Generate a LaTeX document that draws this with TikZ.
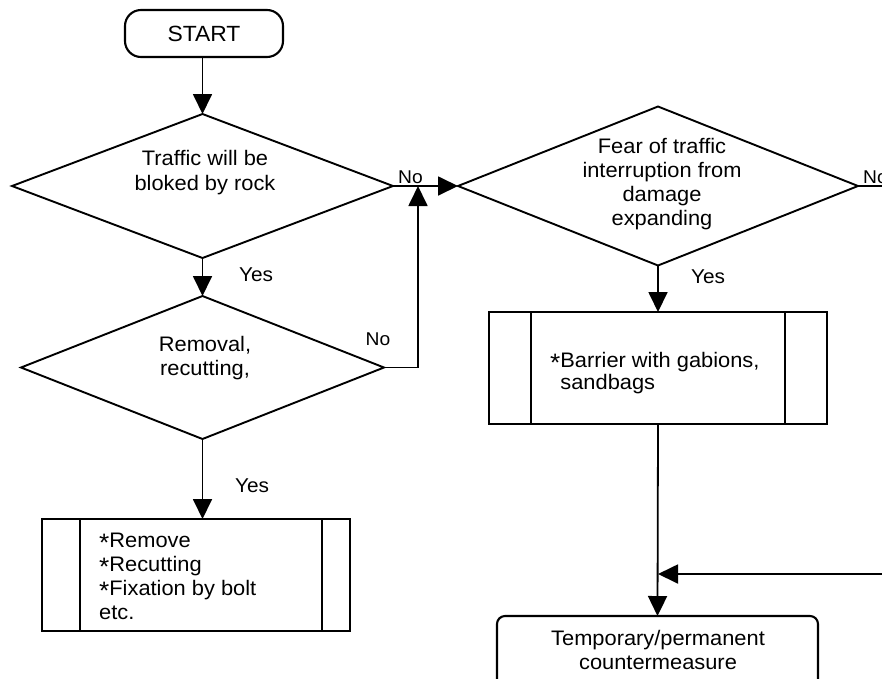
\documentclass[tikz,border=0pt]{standalone}
\usepackage{fontspec}
\setmainfont{Liberation Sans}[FakeStretch=1.04]
\usetikzlibrary{shapes.geometric,arrows.meta,calc}
% list bullet: a lowered asterisk
\newcommand\itemstar{\raisebox{-0.35ex}{\scalebox{1.2}{*}}}
\begin{document}
\begin{tikzpicture}[x=1pt,y=-1pt,
  font=\fontsize{21}{24.5}\selectfont,
  conn/.style={line width=1.8pt},
  arr/.style={conn,-{Triangle[length=20pt,width=19pt]}},
  decision/.style={diamond,draw,line width=1.9pt,inner sep=0pt,outer sep=0pt,aspect=2.6},
  procbox/.style={rectangle,draw,line width=2.7pt,inner sep=0pt,outer sep=0pt},
  terminal/.style={rectangle,draw,line width=2.1pt,outer sep=0pt},
  answer/.style={font=\fontsize{18.5}{20}\selectfont,inner sep=0pt},
  yesmark/.style={font=\fontsize{20}{22}\selectfont,inner sep=0pt},
  txt/.style={align=center,inner sep=0pt},
  listtxt/.style={align=left,inner sep=0pt,anchor=west},
]
\useasboundingbox (0,0) rectangle (882,678);
\clip (0,0) rectangle (882,678);

% terminals
\node[terminal,rounded corners=16pt,minimum width=158pt,minimum height=47pt,
      font=\fontsize{22}{24}\selectfont] (start) at (204,33.5) {START};
\node[terminal,rounded corners=8pt,minimum width=321pt,minimum height=76pt] (fin) at (657.5,654) {};
\node[txt] (fintext) at (658,650) {Temporary/permanent\\countermeasure};

% decisions
\node[decision,minimum width=381pt,minimum height=144pt] (d1) at (202.5,186) {};
\node[txt] (d1text) at (205,172.5) {Traffic will be\\bloked by rock};
\node[decision,minimum width=363pt,minimum height=143pt] (d2) at (202.5,367.5) {};
\node[txt] (d2text) at (205,358) {Removal,\\recutting,};
\node[decision,minimum width=400pt,minimum height=159pt] (d3) at (658,186) {};
\node[txt,font=\fontsize{21}{24}\selectfont] (d3text) at (662,184)
  {Fear of traffic\\interruption from\\damage\\expanding};

% process boxes with side bars
\node[procbox,minimum width=308pt,minimum height=112pt] (b1) at (196,575) {};
\draw[line width=2.7pt] ([xshift=38pt]b1.north west) -- ([xshift=38pt]b1.south west);
\draw[line width=2.7pt] ([xshift=-28pt]b1.north east) -- ([xshift=-28pt]b1.south east);
\node[listtxt,font=\fontsize{21}{24}\selectfont] (b1text) at (99,576)
  {\itemstar Remove\\\itemstar Recutting\\\itemstar Fixation by bolt\\etc.};

\node[procbox,minimum width=338pt,minimum height=112pt] (b2) at (658,368) {};
\draw[line width=2.7pt] ([xshift=42pt]b2.north west) -- ([xshift=42pt]b2.south west);
\draw[line width=2.7pt] ([xshift=-42pt]b2.north east) -- ([xshift=-42pt]b2.south east);
\node[listtxt,font=\fontsize{21}{22.5}\selectfont] (b2text) at (550,373)
  {\itemstar Barrier with gabions,\\\phantom{\itemstar}sandbags};

% connectors
\coordinate (merge) at (418,186);
\coordinate (exitR) at (884,186);
\coordinate (inR) at (884,574);
\coordinate (joinM) at (b2.south |- inR);

\draw[arr] (d1.north |- start.south) -- (d1.north);
\draw[arr] (d1.south) -- (d2.north);
\draw[arr] (d2.south) -- (d2.south |- b1.north);
\draw[arr] (d1.east) -- (d3.west);
\draw[arr] (d2.east) -| (merge);
\draw[conn] (d3.east) -- (exitR);
\draw[arr] (d3.south) -- (b2.north);
\draw[arr] (b2.south) -- (fin.north);
\draw[arr] (inR) -- (joinM);

% branch labels
\node[yesmark] (y1) at (256,275) {Yes};
\node[yesmark] (y2) at (252,486) {Yes};
\node[yesmark] (y3) at (708,277) {Yes};
\node[answer,anchor=base west] (n1) at (398,183) {No};
\node[answer] (n2) at (378,339) {No};
\node[answer,anchor=base west] (n3) at (863,183) {No};
\end{tikzpicture}
\end{document}
